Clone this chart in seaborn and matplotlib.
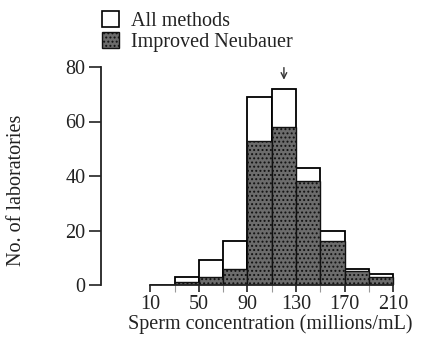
import numpy as np
import matplotlib
matplotlib.use("Agg")
from matplotlib import pyplot as plt
from matplotlib.patches import Patch
import seaborn as sns

# bin edges of sperm concentration (millions/mL)
bin_edges = [10, 30, 50, 70, 90, 110, 130, 150, 170, 190, 210]
all_methods = [0, 3, 9, 16, 69, 72, 43, 20, 6, 4]
improved_neubauer = [0, 1, 3, 6, 53, 58, 38, 16, 5, 3]
major_ticks = [10, 50, 90, 130, 170, 210]
minor_ticks = [30, 70, 110, 150, 190]
y_ticks = [0, 20, 40, 60, 80]
target_value = 120

centers = [(a + b) / 2 for a, b in zip(bin_edges[:-1], bin_edges[1:])]

sns.set_style("ticks")
plt.rcParams['font.family'] = ['Liberation Serif', 'DejaVu Serif']
plt.rcParams['hatch.color'] = '#a8a8a8'
plt.rcParams['hatch.linewidth'] = 0.9

fs = 14.5
shade = '#6c6c6c'

fig = plt.figure(figsize=(4.3, 3.37), dpi=100)
ax = fig.add_axes([101 / 430, 52 / 337, 299 / 430, 218 / 337])

sns.histplot(x=centers, weights=all_methods, bins=bin_edges, stat='count',
             color='white', edgecolor='black', linewidth=1.3, alpha=1, ax=ax)
sns.histplot(x=centers, weights=improved_neubauer, bins=bin_edges, stat='count',
             color=shade, edgecolor='#111111', linewidth=1.0, alpha=1,
             hatch='....', ax=ax)

ax.set_xlim(-30.5, 215.5)
ax.set_ylim(0, 80)
ax.set_xticks(major_ticks)
ax.set_xticks(minor_ticks, minor=True)
ax.set_yticks(y_ticks)
ax.tick_params(axis='x', which='major', length=5, width=1.2, pad=2, labelsize=fs, colors='#222222')
ax.tick_params(axis='x', which='minor', length=5, width=0.8, color='#999999')
ax.tick_params(axis='y', length=9, width=1.2, pad=2, labelsize=fs, colors='#222222')

for side in ['top', 'right']:
    ax.spines[side].set_visible(False)
ax.spines['left'].set_bounds(0, 80)
ax.spines['bottom'].set_bounds(10, 210)
ax.spines['left'].set_linewidth(1.3)
ax.spines['bottom'].set_linewidth(1.3)
ax.spines['left'].set_color('#222222')
ax.spines['bottom'].set_color('#222222')

ax.set_xlabel('Sperm concentration (millions/mL)', fontsize=fs, color='#222222')
ax.set_ylabel('No. of laboratories', fontsize=fs, color='#222222')
ax.xaxis.set_label_coords(0.567, -0.135)
ax.yaxis.set_label_coords(-0.25, 0.436)

ax.annotate('', xy=(target_value, 74.3), xytext=(target_value, 80.8),
            arrowprops=dict(arrowstyle='->', color='#333333', lw=1.0),
            annotation_clip=False)

handles = [Patch(facecolor='white', edgecolor='black', linewidth=1.2, label='All methods'),
           Patch(facecolor=shade, edgecolor='#111111', linewidth=1.0, hatch='....',
                 label='Improved Neubauer')]
fig.legend(handles=handles, loc='upper left', bbox_to_anchor=(90 / 430, 1.003),
           frameon=False, fontsize=fs, handlelength=0.85, handleheight=0.85,
           handletextpad=0.6, labelspacing=0.05, borderaxespad=0.2,
           labelcolor='#222222')

fig.savefig('out.png', dpi=100)
